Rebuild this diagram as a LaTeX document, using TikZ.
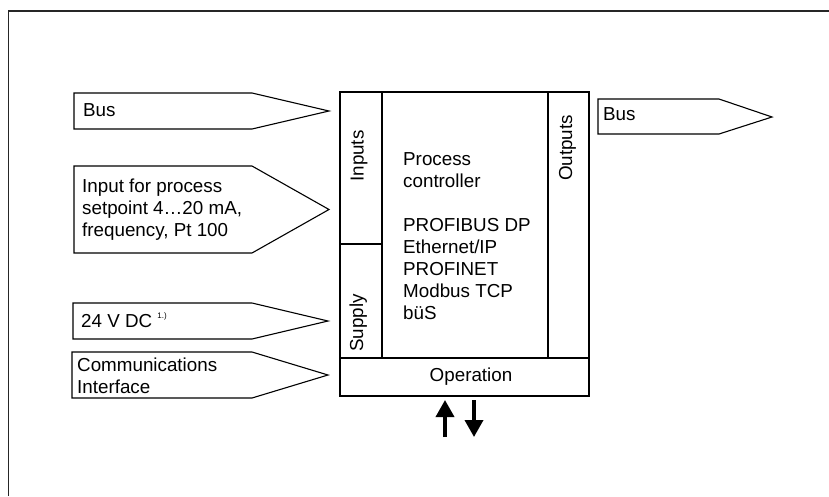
\documentclass[tikz,border=0pt]{standalone}
\usepackage{fontspec}
\setmainfont{Liberation Sans}
\usepackage{tikz}
\usetikzlibrary{arrows.meta}

\tikzset{
    outline/.style={draw, line width=1.1pt, line join=miter},
    frameline/.style={draw=black!85, line width=1.6pt},
    lbl/.style={font=\fontsize{18.8}{22}\selectfont, inner sep=0pt, align=left},
    vlbl/.style={lbl, rotate=90, anchor=base},
    opflow/.style={line width=3.6pt, -{Triangle[width=18pt,length=17pt]}}
}

\begin{document}
\begin{tikzpicture}[x=1pt, y=-1pt]
    \useasboundingbox (0,0) rectangle (829,496);

    % frame
    \draw[frameline] (8.5,496) -- (8.5,11) -- (829,11);

    % input signals
    \draw[outline] (74,93) -- (252,93) -- (329,111) -- (252,129) -- (74,129) -- cycle;
    \node[lbl, anchor=base west] (busin) at (83,116) {Bus};

    \draw[outline] (74,166) -- (252,166) -- (329,209.5) -- (252,253) -- (74,253) -- cycle;
    \node[lbl, anchor=west] (setpoint) at (82,210)
        {Input for process\\setpoint 4…20 mA,\\frequency, Pt 100};

    \draw[outline] (73,303) -- (252,303) -- (328,321) -- (252,339) -- (73,339) -- cycle;
    \node[lbl, anchor=base west] (supplyin) at (81,327)
        {24 V DC \raisebox{0.45em}{\fontsize{8}{9}\selectfont 1.)}};

    \draw[outline] (72,352) -- (252,352) -- (328,375) -- (252,398) -- (72,398) -- cycle;
    \node[lbl, anchor=west] (comm) at (77,376) {Communications\\Interface};

    % controller
    \draw[outline] (340,92) rectangle (589,396);
    \draw[outline] (382,92) -- (382,358);
    \draw[outline] (548,92) -- (548,358);
    \draw[outline] (340,244) -- (382,244);
    \draw[outline] (340,358) -- (589,358);

    \node[vlbl] (inputs) at (363.5,156) {Inputs};
    \node[vlbl] (supply) at (363,323) {Supply};
    \node[vlbl] (outputs) at (572,148) {Outputs};

    \node[lbl, anchor=north west] (ctrl) at (403,152.5)
        {Process\\controller\\[22pt]PROFIBUS DP\\Ethernet/IP\\PROFINET\\Modbus TCP\\büS};

    \node[lbl, anchor=base] (operation) at (471,381) {Operation};

    % output signal
    \draw[outline] (598,99) -- (719,99) -- (772,117) -- (719,134) -- (598,134) -- cycle;
    \node[lbl, anchor=base west] (busout) at (603,120) {Bus};

    % operation arrows
    \coordinate (upfoot) at (445,437);
    \coordinate (uptip) at (445,400);
    \coordinate (downtop) at (474,400);
    \coordinate (downtip) at (474,437);
    \draw[opflow] (upfoot) -- (uptip);
    \draw[opflow] (downtop) -- (downtip);
\end{tikzpicture}
\end{document}
